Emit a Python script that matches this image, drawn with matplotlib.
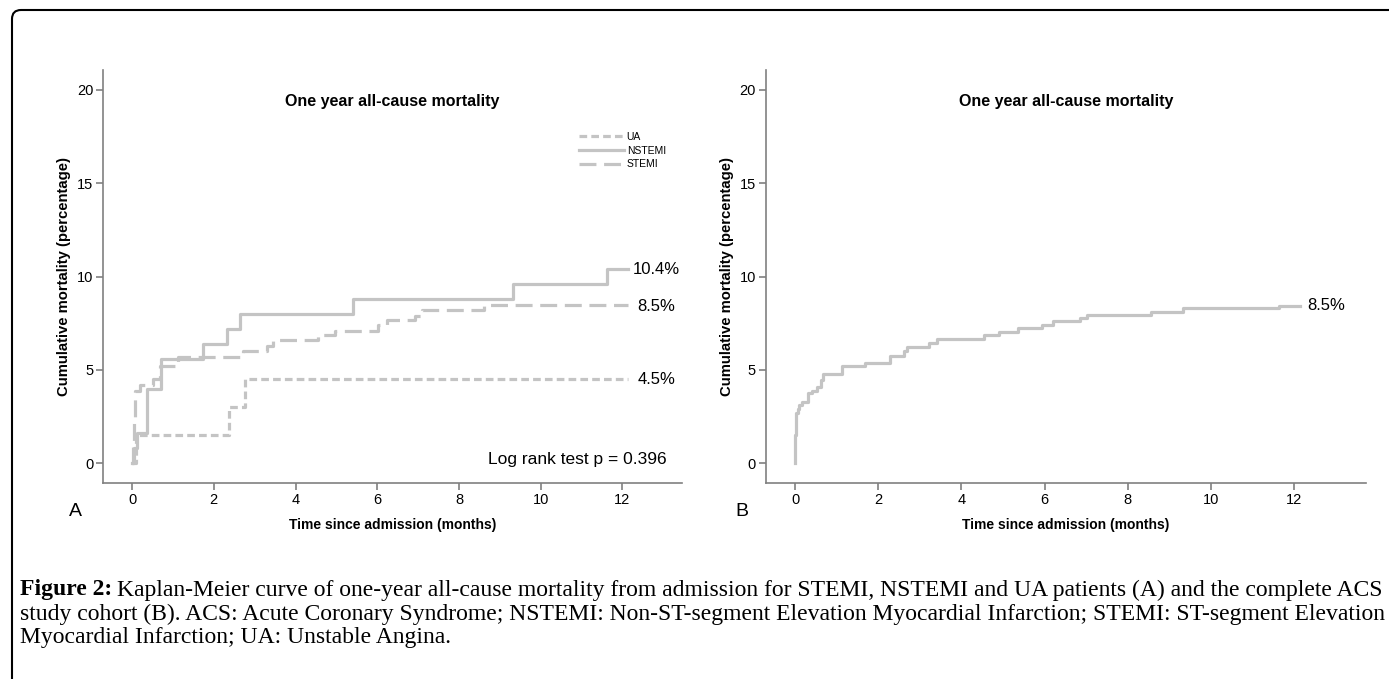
import matplotlib
matplotlib.use("Agg")
import matplotlib.pyplot as plt
from matplotlib.patches import FancyBboxPatch
from matplotlib.transforms import IdentityTransform

# Kaplan-Meier step data (months, cumulative mortality %)
ua_t = [0, 0.10, 2.37, 2.77, 12.14]
ua_y = [0, 1.5, 3.0, 4.5, 4.5]

nstemi_t = [0, 0.05, 0.12, 0.36, 0.71, 1.74, 2.33, 2.64, 5.41, 9.33, 11.62, 12.14]
nstemi_y = [0, 0.8, 1.6, 4.0, 5.6, 6.4, 7.2, 8.0, 8.8, 9.6, 10.4, 10.4]

stemi_t = [0, 0.02, 0.04, 0.06, 0.08, 0.20, 0.50, 0.68, 1.13, 2.72, 3.29, 3.45,
           4.55, 4.97, 6.03, 6.24, 6.92, 7.10, 8.60, 12.14]
stemi_y = [0, 1.2, 2.3, 3.1, 3.9, 4.2, 4.5, 5.2, 5.7, 6.0, 6.3, 6.6,
           6.9, 7.1, 7.4, 7.7, 7.9, 8.2, 8.5, 8.5]

acs_t = [0, 0.005, 0.01, 0.02, 0.06, 0.10, 0.16, 0.32, 0.40, 0.52, 0.63, 0.68,
         1.12, 1.68, 2.29, 2.61, 2.69, 3.21, 3.41, 4.55, 4.90, 5.35, 5.95,
         6.20, 6.85, 7.03, 8.55, 9.34, 11.65, 12.15]
acs_y = [0, 1.5, 2.1, 2.7, 2.9, 3.1, 3.3, 3.75, 3.9, 4.1, 4.45, 4.8,
         5.2, 5.4, 5.75, 6.0, 6.25, 6.45, 6.65, 6.85, 7.05, 7.25, 7.4,
         7.6, 7.8, 7.95, 8.1, 8.3, 8.45, 8.45]

x_ticks = [0, 2, 4, 6, 8, 10, 12]
y_ticks = [0, 5, 10, 15, 20]

plt.rcParams['font.family'] = ['Liberation Sans', 'DejaVu Sans']

curve_col = '#c4c4c4'
axis_col = '#808080'
lw = 2.3

fig = plt.figure(figsize=(13.89, 6.79), dpi=100)
ax1 = fig.add_axes([0.0742, 0.2882, 0.4166, 0.6087])
ax2 = fig.add_axes([0.5512, 0.2882, 0.4325, 0.6087])


def style_axes(ax, xmax):
    ax.set_xlim(-0.71, xmax)
    ax.set_ylim(-1.07, 21.07)
    for s in ['top', 'right']:
        ax.spines[s].set_visible(False)
    for s in ['left', 'bottom']:
        ax.spines[s].set_color(axis_col)
        ax.spines[s].set_linewidth(1.2)
    ax.set_xticks(x_ticks)
    ax.set_yticks(y_ticks)
    ax.tick_params(direction='out', length=5, width=1.2, color=axis_col,
                   labelsize=10.5, pad=2)
    ax.set_ylabel('Cumulative mortality (percentage)', fontweight='bold',
                  fontsize=10.7, labelpad=4)
    ax.set_xlabel('Time since admission (months)', fontweight='bold',
                  fontsize=10, labelpad=8)
    ax.text(0.5, 0.925, 'One year all-cause mortality', transform=ax.transAxes,
            ha='center', va='center', fontweight='bold', fontsize=11.5)


style_axes(ax1, 13.45)
style_axes(ax2, 13.74)

ax1.step(ua_t, ua_y, where='post', color=curve_col, lw=lw,
         dashes=(2.4, 1.3), label='UA')
ax1.step(nstemi_t, nstemi_y, where='post', color=curve_col, lw=lw, label='NSTEMI')
ax1.step(stemi_t, stemi_y, where='post', color=curve_col, lw=lw,
         dashes=(5.3, 2.4), label='STEMI')

ax1.legend(loc='upper left', bbox_to_anchor=(0.822, 0.85), frameon=False,
           fontsize=7.5, handlelength=4.3, handletextpad=0.3,
           labelspacing=0.35, borderpad=0, borderaxespad=0)

ax1.text(12.25, 10.4, '10.4%', fontsize=12, va='center')
ax1.text(12.37, 8.4, '8.5%', fontsize=12, va='center')
ax1.text(12.37, 4.5, '4.5%', fontsize=12, va='center')
ax1.text(13.08, 0.2, 'Log rank test p = 0.396', fontsize=12.5,
         ha='right', va='center')

ax2.step(acs_t, acs_y, where='post', color=curve_col, lw=lw)
ax2.text(12.32, 8.43, '8.5%', fontsize=12, va='center')

fig.text(75 / 1389, 1 - 511 / 679, 'A', fontsize=14, ha='center', va='center')
fig.text(742 / 1389, 1 - 511 / 679, 'B', fontsize=14, ha='center', va='center')

# caption
serif = ['Liberation Serif', 'DejaVu Serif']
cap_lines = [
    'Kaplan-Meier curve of one-year all-cause mortality from admission for STEMI, '
    'NSTEMI and UA patients (A) and the complete ACS',
    'study cohort (B). ACS: Acute Coronary Syndrome; NSTEMI: Non-ST-segment Elevation '
    'Myocardial Infarction; STEMI: ST-segment Elevation',
    'Myocardial Infarction; UA: Unstable Angina.',
]
cap_size = 17
t0 = fig.text(20 / 1389, 1 - 590 / 679, 'Figure 2:', family=serif,
              fontweight='bold', fontsize=cap_size, va='center')
fig.canvas.draw()
bb = t0.get_window_extent()
fig.text((bb.x1 + 5) / 1389, 1 - 590 / 679, cap_lines[0], family=serif,
         fontsize=cap_size, va='center')
fig.text(20 / 1389, 1 - 614 / 679, cap_lines[1], family=serif,
         fontsize=cap_size, va='center')
fig.text(20 / 1389, 1 - 638 / 679, cap_lines[2], family=serif,
         fontsize=cap_size, va='center')

# frame around figure (left and top edges visible)
frame = FancyBboxPatch((12, -200), 3000, 869, boxstyle='round,pad=0,rounding_size=9',
                       transform=IdentityTransform(), fill=False,
                       edgecolor='black', linewidth=1.5)
fig.add_artist(frame)

fig.savefig('out.png', dpi=100)
